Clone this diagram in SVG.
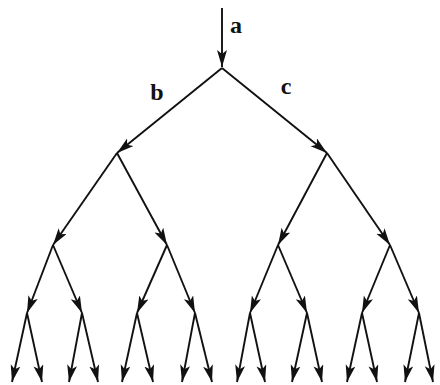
<svg xmlns="http://www.w3.org/2000/svg" width="440" height="385" viewBox="0 0 440 385">
<style>
.e{stroke:#111;stroke-width:1.9;fill:none;marker-end:url(#ah)}
.lbl{font-family:"Liberation Serif","DejaVu Serif",serif;font-weight:bold;font-size:24px;fill:#111;text-anchor:middle}
</style>
<defs>
<marker id="ah" markerUnits="userSpaceOnUse" markerWidth="20" markerHeight="12" refX="17" refY="5" orient="auto">
<path d="M0,0 L17,5 L0,10 L4,5 z" fill="#111"/>
</marker>
</defs>
<rect width="440" height="385" fill="#fff"/>
<g id="connectors">
<line class="e" x1="222" y1="8" x2="222" y2="67"/>
<line class="e" x1="222" y1="68" x2="117" y2="153"/>
<line class="e" x1="222" y1="68" x2="327" y2="153"/>
<line class="e" x1="117" y1="153" x2="53" y2="245"/>
<line class="e" x1="117" y1="153" x2="167" y2="245"/>
<line class="e" x1="327" y1="153" x2="278" y2="245"/>
<line class="e" x1="327" y1="153" x2="390" y2="245"/>
<line class="e" x1="53" y1="245" x2="27" y2="313"/>
<line class="e" x1="53" y1="245" x2="82" y2="313"/>
<line class="e" x1="167" y1="245" x2="137" y2="313"/>
<line class="e" x1="167" y1="245" x2="195" y2="313"/>
<line class="e" x1="278" y1="245" x2="250" y2="313"/>
<line class="e" x1="278" y1="245" x2="307" y2="313"/>
<line class="e" x1="390" y1="245" x2="362" y2="313"/>
<line class="e" x1="390" y1="245" x2="419" y2="313"/>
<line class="e" x1="27" y1="313" x2="12" y2="382"/>
<line class="e" x1="27" y1="313" x2="42" y2="382"/>
<line class="e" x1="82" y1="313" x2="69" y2="382"/>
<line class="e" x1="82" y1="313" x2="98" y2="382"/>
<line class="e" x1="137" y1="313" x2="122" y2="382"/>
<line class="e" x1="137" y1="313" x2="153" y2="382"/>
<line class="e" x1="195" y1="313" x2="182" y2="382"/>
<line class="e" x1="195" y1="313" x2="212" y2="382"/>
<line class="e" x1="250" y1="313" x2="237" y2="382"/>
<line class="e" x1="250" y1="313" x2="265" y2="382"/>
<line class="e" x1="307" y1="313" x2="292" y2="382"/>
<line class="e" x1="307" y1="313" x2="322" y2="382"/>
<line class="e" x1="362" y1="313" x2="347" y2="382"/>
<line class="e" x1="362" y1="313" x2="377" y2="382"/>
<line class="e" x1="419" y1="313" x2="405" y2="382"/>
<line class="e" x1="419" y1="313" x2="433" y2="382"/>
</g>
<g id="label-a"><text class="lbl" x="236" y="33">a</text></g>
<g id="label-b"><text class="lbl" x="157" y="100">b</text></g>
<g id="label-c"><text class="lbl" x="286" y="94">c</text></g>
</svg>
